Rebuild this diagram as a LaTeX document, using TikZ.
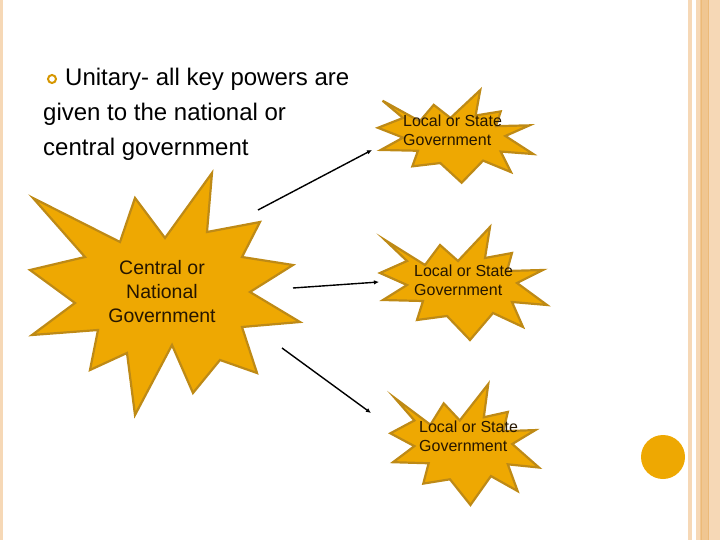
\documentclass[tikz,border=0pt]{standalone}
\usepackage{fontspec}
\setmainfont{Liberation Sans}
\usepackage{tikz}
\usepackage{tkz-euclide}
\usepackage{xcolor}
\usetikzlibrary{arrows.meta}

\definecolor{corestrela}{RGB}{238,168,2}
\definecolor{contorno}{RGB}{190,138,22}
\definecolor{pessego}{RGB}{246,216,182}
\definecolor{pessegoesc}{RGB}{236,186,120}
\definecolor{textoesc}{RGB}{38,22,0}

\begin{document}
\begin{tikzpicture}[x=1pt, y=-1pt, %unidades em pontos, eixo y para baixo como na imagem
  estrela/.style={fill=corestrela, draw=contorno, line width=2.2pt, line join=miter},
  seta/.style={-{Latex[length=5pt,width=4.5pt]}, line width=1.4pt},
  textolocal/.style={font=\fontsize{16}{19}\selectfont, align=left, inner sep=0pt, text=textoesc},
  pics/estrelalocal/.style={code={
    \draw[estrela] (-80,-43) -- (-40,-18) -- (-25,-38) -- (-7,-22) -- (25,-56) -- (20,-25)
      -- (47,-30) -- (42,-12) -- (78,-13) -- (52,0) -- (82,22) -- (47,19) -- (58,44)
      -- (28,30) -- (5,57) -- (-18,33) -- (-48,37) -- (-42,18) -- (-82,17) -- (-58,2)
      -- (-85,-10) -- (-58,-22) -- cycle;}}]

\useasboundingbox (0,0) rectangle (720,540);

%Faixas da moldura do slide: uma estreita a esquerda e o conjunto de faixas a direita.
%---------------------------------------------------
\fill[pessego] (0,0) rectangle (3,540);
\fill[pessego] (688,0) rectangle (692,540);
\fill[pessego] (696,0) rectangle (720,540);
\fill[pessegoesc!60!pessego] (700,0) rectangle (708,540);
\draw[pessegoesc, line width=1pt] (701,0) -- (701,540);
\draw[pessegoesc, line width=1pt] (708,0) -- (708,540);
%---------------------------------------------------

%Circulo decorativo no canto inferior direito.
\fill[corestrela] (663,457) circle (22);

%Texto do topo com o marcador em forma de anel.
%---------------------------------------------------
\draw[corestrela!90!black, line width=2pt] (52,79) circle (4);
\node[anchor=west, align=left, inner sep=0pt, font=\fontsize{24}{35}\selectfont] (unitario) at (43,114)
  {\hspace*{22pt}Unitary- all key powers are\\given to the national or\\central government};
%---------------------------------------------------

%Estrela grande do governo central, desenhada ponto a ponto (pontas e vales alternados).
%---------------------------------------------------
\draw[estrela] (33,198) -- (120,242) -- (135,198) -- (165,238) -- (212,173) -- (207,232)
  -- (260,222) -- (242,257) -- (293,265) -- (250,292) -- (300,322) -- (242,327)
  -- (257,373) -- (220,360) -- (193,393) -- (172,345) -- (135,415) -- (127,353)
  -- (90,370) -- (98,330) -- (32,335) -- (75,303) -- (30,270) -- (85,257) -- cycle;
\node[align=center, inner sep=0pt, text=textoesc, font=\fontsize{19.5}{24}\selectfont] (central) at (162,292)
  {Central or\\National\\Government};
%---------------------------------------------------

%Estrelas menores dos governos locais, com o mesmo desenho em escalas diferentes.
%---------------------------------------------------
\pic[shift={(457,136)}, xscale=.93, yscale=.82] {estrelalocal};
\pic[shift={(465,283)}] {estrelalocal};
\pic[shift={(466,444)}, xscale=.89, yscale=1.07] {estrelalocal};

\node[textolocal, anchor=west] (localA) at (403,130) {Local or State\\Government};
\node[textolocal, anchor=west] (localB) at (414,280) {Local or State\\Government};
\node[textolocal, anchor=west] (localC) at (419,436) {Local or State\\Government};
%---------------------------------------------------

%Pontos de saida e chegada das setas (x/y/NomedoPonto).
\tkzDefPoints{
258/210/A,
372/150/B,
293/288/C,
379/282/D,
282/348/E,
371/413/F}

%Setas do governo central para os governos locais.
%---------------------------------------------------
\draw[seta] (A) -- (B);
\draw[seta] (C) -- (D);
\draw[seta] (E) -- (F);
%---------------------------------------------------

\end{tikzpicture}
\end{document}
